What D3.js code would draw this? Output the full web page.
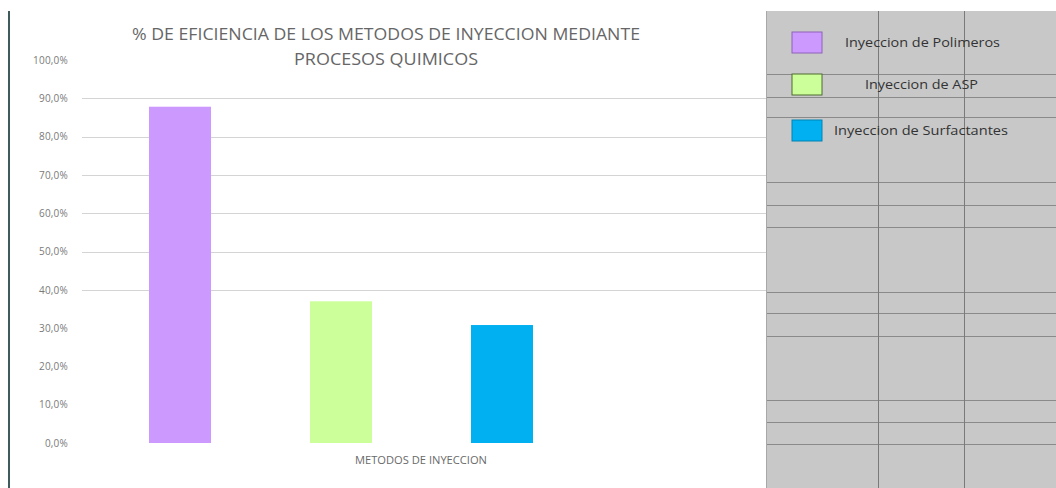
<!DOCTYPE html>
<html>
<head>
<meta charset="utf-8">
<script src="https://cdn.jsdelivr.net/npm/d3@7/dist/d3.min.js"></script>
<style>
  html, body { margin: 0; padding: 0; background: #fff; }
  svg { display: block; }
  text { font-family: "Open Sans", "Liberation Sans", sans-serif; }
</style>
</head>
<body>
<svg id="chart" width="1056" height="488"></svg>
<script>
// Eficiencia de cada método de inyección (fracción 0–1)
const metodos = ["Inyeccion de Polimeros", "Inyeccion de ASP", "Inyeccion de Surfactantes"];
const eficiencia = [0.878, 0.370, 0.308];
const colores = ["#cc99ff", "#ccff99", "#00b0f0"];
const bordes = ["#8e63b8", "#4d6b2e", "#0083b3"];
const yTicks = [0, 0.1, 0.2, 0.3, 0.4, 0.5, 0.6, 0.7, 0.8, 0.9, 1.0];
const gridTicks = [0.4, 0.5, 0.6, 0.7, 0.8, 0.9];
const tituloLineas = ["% DE EFICIENCIA DE LOS METODOS DE INYECCION MEDIANTE", "PROCESOS QUIMICOS"];
const ejeX = "METODOS DE INYECCION";

const svg = d3.select("#chart");

const y = d3.scaleLinear().domain([0, 1]).range([443, 60]);
const x = d3.scaleBand().domain(metodos).range([99.5, 582.5])
  .paddingInner(0.615).paddingOuter(0.3075);

const fmt = v => d3.format(".1f")(v * 100).replace(".", ",") + "%";

// horizontal gridlines
svg.append("g").selectAll("line").data(gridTicks).join("line")
  .attr("x1", 82).attr("x2", 766)
  .attr("y1", d => Math.round(y(d)) + 0.5).attr("y2", d => Math.round(y(d)) + 0.5)
  .attr("stroke", "#d4d4d4").attr("stroke-width", 1.2);

// y axis labels
const yAxis = d3.axisLeft(y).tickValues(yTicks).tickFormat(fmt).tickSize(0).tickPadding(0);
const gy = svg.append("g").attr("transform", "translate(68,0)").call(yAxis);
gy.select(".domain").remove();
gy.selectAll("text").attr("fill", "#7a7a7a").attr("font-size", 10)
  .attr("font-family", "Open Sans, sans-serif").attr("letter-spacing", "0.2");

// bars
svg.append("g").selectAll("rect").data(metodos).join("rect")
  .attr("x", d => x(d))
  .attr("width", x.bandwidth())
  .attr("y", (d, i) => y(eficiencia[i]))
  .attr("height", (d, i) => y(0) - y(eficiencia[i]))
  .attr("fill", (d, i) => colores[i]);

// title, two lines
const tituloAncho = [508, 184];
svg.append("g").selectAll("text").data(tituloLineas).join("text")
  .attr("x", (d, i) => 386 - tituloAncho[i] / 2)
  .attr("y", (d, i) => 40 + i * 25)
  .attr("textLength", (d, i) => tituloAncho[i])
  .attr("lengthAdjust", "spacingAndGlyphs")
  .attr("fill", "#666").attr("font-size", 16)
  .text(d => d);

// x axis title
svg.append("text").attr("x", 355).attr("y", 464)
  .attr("textLength", 132).attr("lengthAdjust", "spacingAndGlyphs")
  .attr("fill", "#6a6a6a").attr("font-size", 10).text(ejeX);

// left frame line
svg.append("line").attr("x1", 9).attr("x2", 9).attr("y1", 11).attr("y2", 488)
  .attr("stroke", "#3f5c5c").attr("stroke-width", 2);

// spreadsheet panel on the right
const panel = svg.append("g");
panel.append("rect").attr("x", 766).attr("y", 11).attr("width", 290).attr("height", 477)
  .attr("fill", "#c8c8c8");
const filas = [74, 97, 117, 182, 205, 227, 292, 313, 336, 400, 422, 444];
panel.selectAll("line.h").data(filas).join("line").attr("class", "h")
  .attr("x1", 766).attr("x2", 1056).attr("y1", d => d + 0.5).attr("y2", d => d + 0.5)
  .attr("stroke", "#8a8a8a").attr("stroke-width", 1);
const columnas = [878, 964];
panel.selectAll("line.v").data(columnas).join("line").attr("class", "v")
  .attr("x1", d => d + 0.5).attr("x2", d => d + 0.5).attr("y1", 11).attr("y2", 488)
  .attr("stroke", "#7a7a7a").attr("stroke-width", 1);
panel.append("line").attr("x1", 766.5).attr("x2", 766.5).attr("y1", 11).attr("y2", 488)
  .attr("stroke", "#a8a8a8").attr("stroke-width", 1);

// legend
const legendY = [32, 74, 120];
const legendTextX = [845, 865, 834];
const legendAncho = [155, 113, 174];
const lg = svg.append("g").selectAll("g").data(metodos).join("g");
lg.append("rect").attr("x", 792).attr("y", (d, i) => legendY[i])
  .attr("width", 30).attr("height", 21)
  .attr("fill", (d, i) => colores[i]).attr("stroke", (d, i) => bordes[i]).attr("stroke-width", 1);
lg.append("text").attr("x", (d, i) => legendTextX[i]).attr("y", (d, i) => legendY[i] + 15)
  .attr("textLength", (d, i) => legendAncho[i]).attr("lengthAdjust", "spacingAndGlyphs")
  .attr("fill", "#333").attr("font-size", 12).text(d => d);
</script>
</body>
</html>
